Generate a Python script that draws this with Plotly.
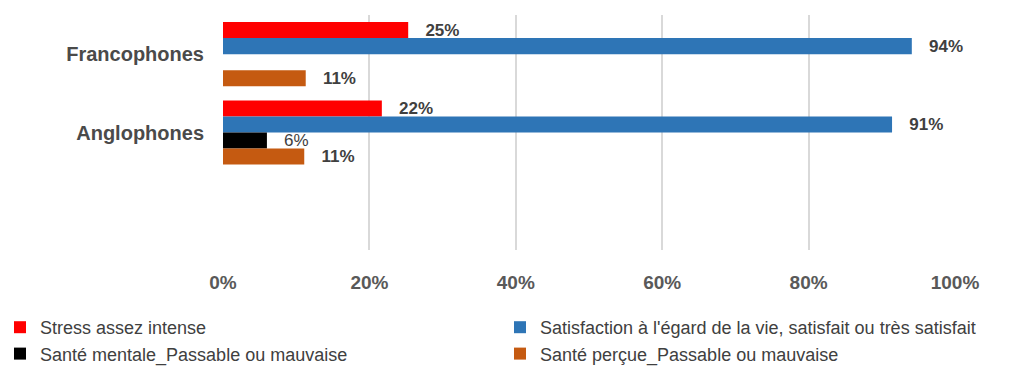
import plotly.graph_objects as go

categories = ["Francophones", "Anglophones"]
series_names = [
    "Stress assez intense",
    "Satisfaction à l'égard de la vie, satisfait ou très satisfait",
    "Santé mentale_Passable ou mauvaise",
    "Santé perçue_Passable ou mauvaise",
]
stress = [25.3, 21.7]
satisfaction = [94.1, 91.4]
sante_mentale = [None, 6.0]
sante_percue = [11.3, 11.1]
colors = ["#FF0000", "#2E75B6", "#000000", "#C55A11"]
legend_ids = ["legend", "legend2", "legend", "legend2"]
x_ticks = [0, 20, 40, 60, 80, 100]
x_tick_labels = ["0%", "20%", "40%", "60%", "80%", "100%"]

FONT = "Liberation Sans"
TXT = "#404040"

fig = go.Figure()
all_vals = [stress, satisfaction, sante_mentale, sante_percue]
for name, vals, col, lg in zip(series_names, all_vals, colors, legend_ids):
    bold = name != series_names[2]
    labels = ["" if v is None else ("   " + f"{round(v)}%") for v in vals]
    fig.add_trace(go.Bar(
        y=categories, x=vals, orientation="h", name=name,
        marker=dict(color=col, line=dict(width=0)),
        text=labels, textposition="outside", cliponaxis=False,
        constraintext="none", legend=lg,
        textfont=dict(family=FONT, size=17, color=TXT,
                      weight="bold" if bold else "normal"),
        hoverinfo="skip",
    ))

legend_common = dict(
    orientation="v", xref="container", yref="container",
    xanchor="left", yanchor="top",
    font=dict(family=FONT, size=18, color=TXT),
    itemsizing="constant", traceorder="normal",
    bgcolor="rgba(0,0,0,0)", borderwidth=0,
)

fig.update_layout(
    width=1009, height=370,
    barmode="group", bargap=0.18, bargroupgap=0,
    plot_bgcolor="white", paper_bgcolor="white",
    margin=dict(l=223, r=54, t=15, b=120, autoexpand=False),
    font=dict(family=FONT, color=TXT),
    showlegend=True,
    legend=dict(x=0.0, y=1 - 309 / 370, **legend_common),
    legend2=dict(x=500 / 1009, y=1 - 309 / 370, **legend_common),
    xaxis=dict(
        range=[0, 100], tickvals=x_ticks, ticktext=x_tick_labels,
        showgrid=True, gridcolor="#D9D9D9", gridwidth=1.5,
        zeroline=False, showline=False,
        tickfont=dict(family=FONT, size=19, color="#595959", weight="bold"),
        ticklabelstandoff=19, automargin=False,
    ),
    yaxis=dict(
        type="category", categoryarray=categories, categoryorder="array",
        range=[2.5, -0.5],
        showgrid=False, zeroline=False, showline=False, ticks="",
        tickfont=dict(family=FONT, size=20, color="#4A4A4A", weight="bold"),
        ticklabelstandoff=18, automargin=False,
    ),
)

fig.write_html("out.html", config={"displayModeBar": False},
               post_script="document.body.style.margin='0px';")
